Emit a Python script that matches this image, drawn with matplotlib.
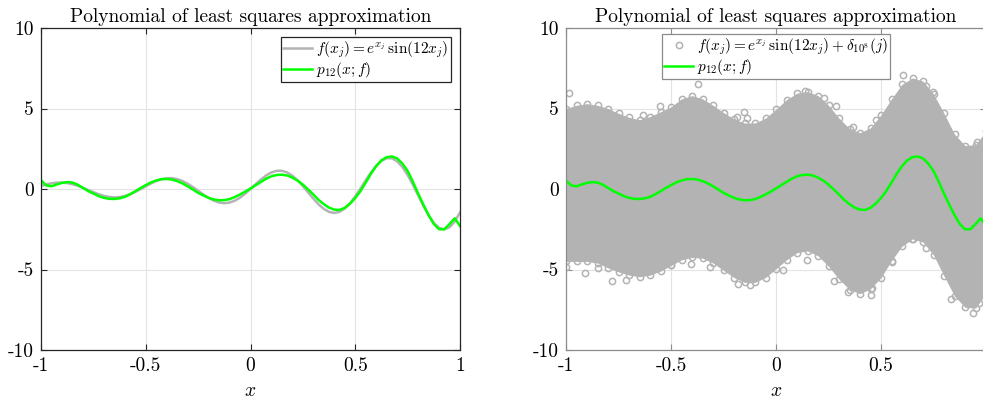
import numpy as np
import matplotlib
matplotlib.use("Agg")
import matplotlib.pyplot as plt

plt.rcParams['font.family'] = 'serif'
plt.rcParams['font.serif'] = ['cmr10', 'DejaVu Serif']
plt.rcParams['mathtext.fontset'] = 'cm'
plt.rcParams['axes.unicode_minus'] = False

# f(x_j) = e^x sin(12x), read at x = -1 .. 1 step 0.025
f_vals = [0.197, 0.287, 0.355, 0.394, 0.399, 0.367, 0.299, 0.200, 0.078, -0.057,
          -0.195, -0.321, -0.424, -0.494, -0.521, -0.502, -0.436, -0.326, -0.180, -0.010,
          0.170, 0.343, 0.493, 0.605, 0.668, 0.672, 0.614, 0.497, 0.328, 0.120,
          -0.110, -0.341, -0.553, -0.725, -0.838, -0.880, -0.843, -0.727, -0.537, -0.288,
          0.000, 0.303, 0.594, 0.844, 1.030, 1.130, 1.131, 1.028, 0.825, 0.535,
          0.181, -0.208, -0.597, -0.952, -1.237, -1.422, -1.486, -1.416, -1.212, -0.886,
          -0.461, 0.028, 0.540, 1.028, 1.446, 1.752, 1.913, 1.905, 1.721, 1.369,
          0.872, 0.270, -0.388, -1.044, -1.638, -2.110, -2.413, -2.508, -2.377, -2.020,
          -1.459]

# p12(x; f), same grid
p12_vals = [0.54, 0.22, 0.17, 0.28, 0.38, 0.43, 0.40, 0.27, 0.07, -0.13,
            -0.28, -0.44, -0.55, -0.61, -0.62, -0.58, -0.49, -0.33, -0.14, 0.06,
            0.24, 0.41, 0.53, 0.61, 0.62, 0.59, 0.49, 0.35, 0.17, -0.03,
            -0.24, -0.40, -0.55, -0.65, -0.70, -0.69, -0.63, -0.50, -0.34, -0.16,
            0.03, 0.24, 0.44, 0.64, 0.79, 0.87, 0.89, 0.84, 0.71, 0.52,
            0.27, -0.03, -0.34, -0.68, -0.94, -1.16, -1.28, -1.30, -1.17, -0.91,
            -0.56, -0.13, 0.40, 0.95, 1.42, 1.78, 1.98, 2.02, 1.90, 1.58,
            1.12, 0.45, -0.28, -0.97, -1.62, -2.17, -2.50, -2.50, -2.18, -1.82,
            -2.30]

# noisy samples: edges of the dense cloud, x = -1 .. 1 step 0.05
cloud_top = [5.0, 5.2, 5.3, 5.2, 5.0, 4.7, 4.45, 4.3, 4.5, 4.8,
             5.1, 5.6, 5.8, 5.6, 5.2, 4.75, 4.35, 4.1, 4.1, 4.4,
             4.95, 5.55, 5.95, 6.05, 5.8, 5.2, 4.4, 3.75, 3.5, 3.8,
             4.6, 5.6, 6.5, 6.9, 6.7, 5.9, 4.7, 3.4, 2.7, 2.75,
             3.6]
cloud_bot = [-4.5, -4.5, -4.5, -4.6, -4.9, -5.15, -5.35, -5.45, -5.35, -5.1,
             -4.75, -4.4, -4.25, -4.3, -4.6, -5.05, -5.5, -5.8, -5.8, -5.5,
             -4.95, -4.4, -3.95, -3.85, -4.15, -4.8, -5.6, -6.25, -6.5, -6.2,
             -5.5, -4.45, -3.55, -3.1, -3.3, -4.1, -5.4, -6.65, -7.35, -7.4,
             -6.5]

# stray samples outside the dense cloud
out_x = [-0.984, -0.370, -0.552, -0.632, -0.187, -0.137, -0.152, 0.284, 0.365, 0.606,
         0.138, 0.230, 0.437, 0.476, 0.746, 0.714, 0.955,
         -0.910, -0.780, -0.716, -0.848, -1.0, -0.498, -0.403, -0.316, -0.179,
         -0.124, 0.035, 0.146, 0.278, 0.344, 0.450, 0.458, 0.550, 0.646, 0.716,
         0.835, 0.94, 0.965]
out_y = [5.98, 6.52, 5.13, 4.58, 4.47, 4.39, 4.78, 5.18, 3.85, 7.08,
         6.09, 5.65, 3.44, 4.26, 6.02, 6.40, 2.95,
         -5.2, -5.73, -5.63, -4.9, -4.84, -4.70, -4.64, -4.84, -5.88,
         -5.94, -5.01, -4.39, -5.73, -6.40, -6.56, -6.13, -4.53, -3.08, -3.64,
         -6.85, -7.7, -7.1]

x_fine = np.linspace(-1, 1, len(f_vals))
x_env = np.linspace(-1, 1, len(cloud_top))

gray = '#b3b3b3'
green = '#00ff00'

fig = plt.figure(figsize=(9.83, 4.0), dpi=100)
ax1 = fig.add_axes([41 / 983, 50 / 400, 419 / 983, 322 / 400])
ax2 = fig.add_axes([566 / 983, 50 / 400, 420 / 983, 322 / 400])


def style(ax, spine_col, xtl):
    ax.set_xlim(-1, 1)
    ax.set_ylim(-10, 10)
    ax.set_xticks([-1, -0.5, 0, 0.5, 1])
    ax.set_xticklabels(xtl)
    ax.set_yticks([-10, -5, 0, 5, 10])
    ax.set_yticklabels(['-10', '-5', '0', '5', '10'])
    ax.grid(True, color='#e3e3e3', lw=0.8)
    ax.set_axisbelow(True)
    ax.tick_params(direction='in', top=True, right=True, length=4,
                   labelsize=14, color=spine_col, pad=5)
    for s in ax.spines.values():
        s.set_color(spine_col)
        s.set_linewidth(0.9)
    ax.set_xlabel(r'$x$', fontsize=14, labelpad=5)
    ax.set_title('Polynomial of least squares approximation', fontsize=14, pad=4)


# left panel
ax1.plot(x_fine, f_vals, color=gray, lw=1.8, label=r'$f(x_j) = e^{x_j}\,\sin(12x_j)$')
ax1.plot(x_fine, p12_vals, color=green, lw=1.8, label=r'$p_{12}(x;f)$')
style(ax1, '#262626', ['-1', '-0.5', '0', '0.5', '1'])
leg1 = ax1.legend(loc='upper right', fontsize=11, fancybox=False, framealpha=1,
                  edgecolor='#262626', handlelength=1.9, handletextpad=0.25,
                  borderpad=0.15, labelspacing=0.0, borderaxespad=0.6)
leg1.get_frame().set_linewidth(0.9)

# right panel
ax2.fill_between(x_env, cloud_bot, cloud_top, color=gray, lw=0)
ax2.plot(x_env, cloud_top, 'o', mfc='none', mec=gray, ms=4.5, mew=1.1)
ax2.plot(x_env, cloud_bot, 'o', mfc='none', mec=gray, ms=4.5, mew=1.1)
ax2.plot(out_x, out_y, 'o', mfc='none', mec=gray, ms=4.5, mew=1.1,
         label=r'$f(x_j) = e^{x_j}\,\sin(12x_j) + \delta_{10^8}(j)$')
ax2.plot(x_fine, p12_vals, color=green, lw=1.8, label=r'$p_{12}(x;f)$')
style(ax2, '#8c8c8c', ['-1', '-0.5', '0', '0.5', ''])
leg2 = ax2.legend(loc='upper center', fontsize=11, fancybox=False, framealpha=1,
                  edgecolor='#8c8c8c', handlelength=1.9, handletextpad=0.25,
                  borderpad=0.15, labelspacing=0.0, borderaxespad=0.4,
                  numpoints=1)
leg2.get_frame().set_linewidth(0.9)

fig.savefig('out.png', dpi=100)
